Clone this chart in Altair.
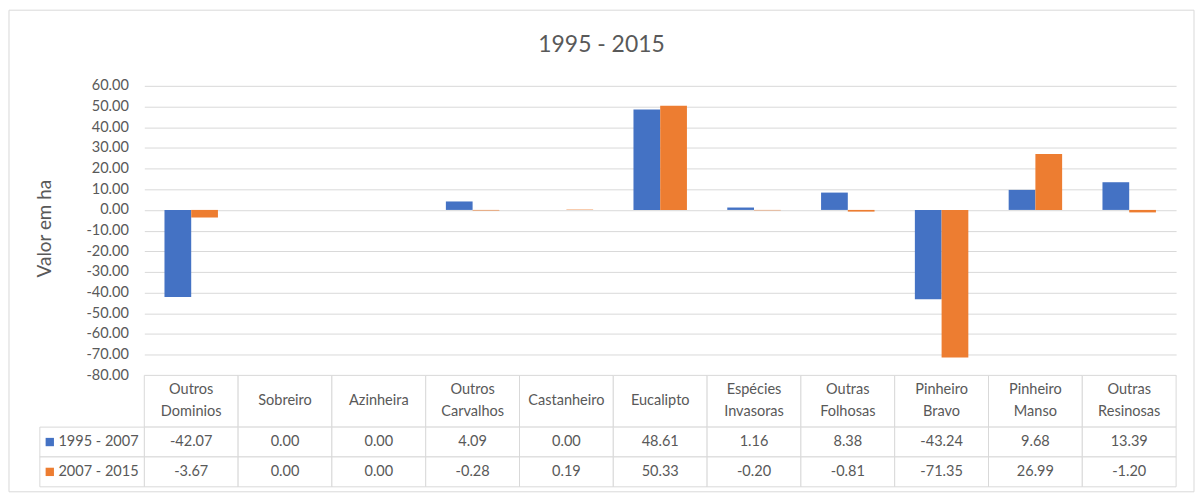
import altair as alt
import pandas as pd

# ---------------- data ----------------
categories = [
    "Outros Dominios", "Sobreiro", "Azinheira", "Outros Carvalhos", "Castanheiro",
    "Eucalipto", "Espécies Invasoras", "Outras Folhosas", "Pinheiro Bravo",
    "Pinheiro Manso", "Outras Resinosas",
]
series_names = ["1995 - 2007", "2007 - 2015"]
values_1995_2007 = [-42.07, 0.00, 0.00, 4.09, 0.00, 48.61, 1.16, 8.38, -43.24, 9.68, 13.39]
values_2007_2015 = [-3.67, 0.00, 0.00, -0.28, 0.19, 50.33, -0.20, -0.81, -71.35, 26.99, -1.20]
y_ticks = [-80, -70, -60, -50, -40, -30, -20, -10, 0, 10, 20, 30, 40, 50, 60]
series_colors = ["#4472C4", "#ED7D31"]
chart_title = "1995 - 2015"
y_title = "Valor em ha"

# ---------------- styles ----------------
TXT = "#595959"
GRID = "#D9D9D9"
FONT = "Lato"
FS = 14.6
W = 1037
H_PLOT = 291
H_HEAD = 52
H_ROWS = 60

rows = []
for s, vals in zip(series_names, [values_1995_2007, values_2007_2015]):
    for c, v in zip(categories, vals):
        rows.append({"category": c, "series": s, "value": v, "label": f"{v:.2f}"})
df = pd.DataFrame(rows)
hdr_df = pd.DataFrame({"category": categories})
leg_df = pd.DataFrame({"series": series_names})

color_enc = alt.Color("series:N", scale=alt.Scale(domain=series_names, range=series_colors), legend=None)

# ---------------- bar chart ----------------
bars = alt.Chart(df).mark_bar().encode(
    x=alt.X("category:N", sort=categories, axis=None,
            scale=alt.Scale(paddingInner=0.43, paddingOuter=0.215)),
    xOffset=alt.XOffset("series:N", sort=series_names),
    y=alt.Y("value:Q",
            scale=alt.Scale(domain=[-80, 60], nice=False, zero=True),
            axis=alt.Axis(
                values=y_ticks,
                labelExpr="replace(format(datum.value, '.2f'), '\u2212', '-')",
                labelFont=FONT, labelFontSize=FS, labelColor=TXT, labelPadding=16,
                labelOverlap=False, labelFlush=False,
                domain=False, ticks=False, grid=True, gridColor=GRID, gridWidth=1,
                title=y_title, titleFont=FONT, titleFontSize=19, titleFontWeight="normal",
                titleColor=TXT, titleAngle=270, titleX=-100, titleY=143,
                titleBaseline="middle", titleAlign="center",
            )),
    color=color_enc,
)

frame = alt.Chart(pd.DataFrame({"f": [0]})).mark_rect(
    fillOpacity=0, stroke=GRID, strokeWidth=1
).encode(x=alt.value(-136), x2=alt.value(1055), y=alt.value(-76), y2=alt.value(408))

top = alt.layer(frame, bars).properties(width=W, height=H_PLOT)

# ---------------- table header ----------------
hx = alt.X("category:N", sort=categories, axis=None,
           scale=alt.Scale(paddingInner=0, paddingOuter=0))
two_line = "indexof(datum.category, ' ') >= 0"
header = alt.layer(
    alt.Chart(hdr_df).mark_rect(fill="white", stroke=GRID, strokeWidth=1).encode(x=hx),
    alt.Chart(hdr_df).transform_filter("!(" + two_line + ")").mark_text(
        font=FONT, fontSize=FS, color=TXT, baseline="middle"
    ).encode(x=hx, text="category:N"),
    alt.Chart(hdr_df).transform_filter(two_line).mark_text(
        lineBreak=" ", lineHeight=22, font=FONT, fontSize=FS, color=TXT,
        baseline="middle", dy=-11
    ).encode(x=hx, text="category:N"),
).properties(width=W, height=H_HEAD)

# ---------------- table rows ----------------
ry = alt.Y("series:N", sort=series_names, axis=None,
           scale=alt.Scale(paddingInner=0, paddingOuter=0))
cells = alt.Chart(df).mark_rect(fill="white", stroke=GRID, strokeWidth=1).encode(x=hx, y=ry)
vals = alt.Chart(df).mark_text(font=FONT, fontSize=FS, color=TXT, baseline="middle").encode(
    x=hx, y=ry, text="label:N")
leg_cells = alt.Chart(leg_df).mark_rect(fill="white", stroke=GRID, strokeWidth=1).encode(
    x=alt.value(-105), x2=alt.value(0), y=ry)
swatch = alt.Chart(leg_df).mark_square(size=70, opacity=1).encode(
    x=alt.value(-95), y=ry, color=color_enc)
leg_text = alt.Chart(leg_df).mark_text(font=FONT, fontSize=FS, color=TXT, baseline="middle",
                                       align="center").encode(
    x=alt.value(-46), y=ry, text="series:N")

table = alt.layer(cells, vals, leg_cells, swatch, leg_text).properties(width=W, height=H_ROWS)

chart = alt.vconcat(
    top, header, table,
    spacing=0, bounds="flush", padding=0,
    title=alt.TitleParams(text=chart_title, font=FONT, fontSize=23, fontWeight="normal",
                          color=TXT, anchor="middle", frame="bounds", baseline="middle",
                          offset=-58),
).resolve_scale(x="independent", y="independent").configure_view(strokeWidth=0)

chart.save("out.html", embed_options={"renderer": "svg", "actions": False})
